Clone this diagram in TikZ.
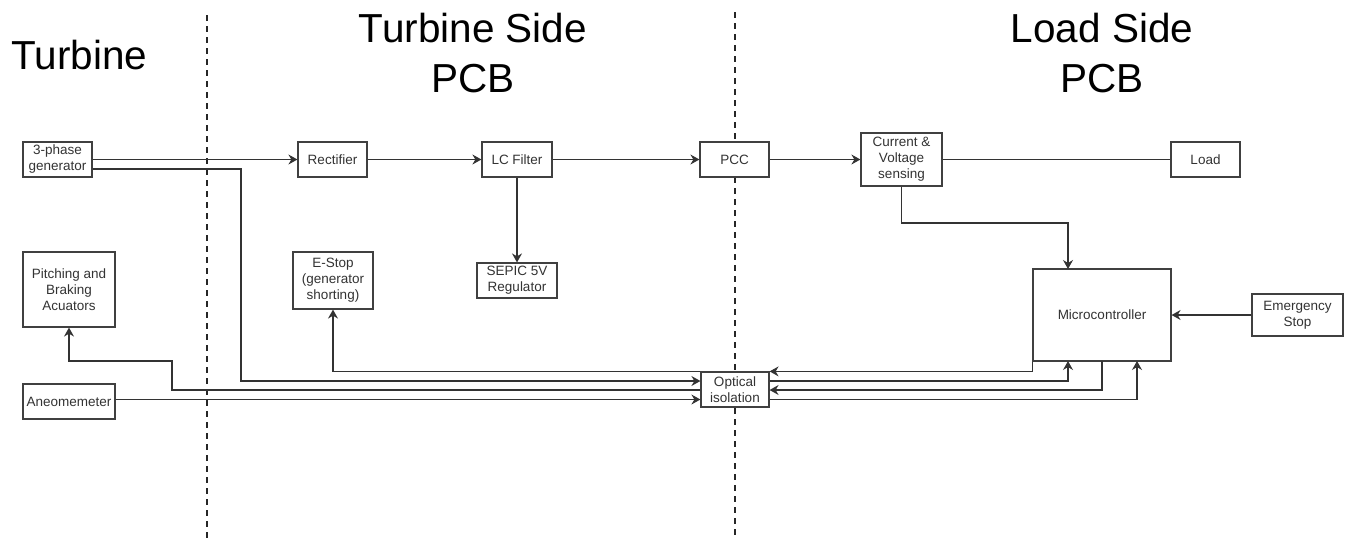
\documentclass[tikz,border=0pt]{standalone}
\usepackage{fontspec}
\setmainfont{Liberation Sans}
\usetikzlibrary{arrows.meta}
\begin{document}
\begin{tikzpicture}[x=1pt,y=-1pt,
  box/.style={draw=black!75,line width=1.2pt,fill=white,inner sep=0pt,align=center,
    text=black!80,font=\fontsize{13.5}{16}\selectfont},
  title/.style={inner sep=0pt,align=center,font=\fontsize{40.5}{50}\selectfont},
  conn/.style={draw=black!80,line width=1.1pt},
  arr/.style={conn,-{Stealth[length=9pt,width=10pt,inset=3pt]}},
  divider/.style={draw=black!85,line width=2pt,dash pattern=on 6pt off 5pt}]
\useasboundingbox (0,0) rectangle (1347,539);
\fill[white] (0,0) rectangle (1347,539);
% dividers
\coordinate (d1t) at (206.5,15);
\coordinate (d1b) at (206.5,539);
\coordinate (d2t) at (735,12);
\coordinate (d2b) at (735,539);
\draw[divider] (d1t) -- (d1b);
\draw[divider] (d2t) -- (d2b);
% titles
\node[title,anchor=base] (tturb) at (79.5,69) {Turbine};
\node[title] (tts) at (473,53) {Turbine Side\\PCB};
\node[title] (tls) at (1102,53) {Load Side\\PCB};
% boxes
\node[box,minimum width=69pt,minimum height=35pt] (gen) at (57.5,159.5) {3-phase\\generator};
\node[box,minimum width=69pt,minimum height=35pt] (rect) at (332.5,159.5) {Rectifier};
\node[box,minimum width=70pt,minimum height=35pt] (lc) at (517,159.5) {LC Filter};
\node[box,minimum width=80pt,minimum height=35pt] (sepic) at (517,280.5) {SEPIC 5V\\Regulator};
\node[box,minimum width=80pt,minimum height=57pt] (estop) at (333,280.5) {E-Stop\\(generator\\shorting)};
\node[box,minimum width=92pt,minimum height=75pt] (pitch) at (69,289.5) {Pitching and\\Braking\\Acuators};
\node[box,minimum width=92pt,minimum height=35pt] (aneo) at (69,401.5) {Aneomemeter};
\node[box,minimum width=68pt,minimum height=35pt] (opt) at (735,389.5) {Optical\\isolation};
\node[box,minimum width=69pt,minimum height=35pt] (pcc) at (734.5,159.5) {PCC};
\node[box,minimum width=81pt,minimum height=53pt] (cvs) at (901.5,159.5) {Current \&\\Voltage\\sensing};
\node[box,minimum width=69pt,minimum height=35pt] (load) at (1205.5,159.5) {Load};
\node[box,minimum width=138pt,minimum height=92pt] (mcu) at (1102,315) {Microcontroller};
\node[box,minimum width=91pt,minimum height=42pt] (emst) at (1297.5,315) {Emergency\\Stop};
% power path
\draw[arr] (gen.east) -- (rect.west);
\draw[arr] (rect) -- (lc);
\draw[arr] (lc) -- (pcc);
\draw[arr] (pcc) -- (cvs);
\draw[conn] (cvs) -- (load);
\draw[arr] (lc) -- (sepic);
\draw[arr] (cvs.south) |- (1068,223) -- (1068,269);
% left side signals via optical isolation
\draw[arr] ([yshift=-9.5pt]gen.east) -| (241,381) -- (opt.west |- 0,381);
\draw[arr] (opt.west |- 0,390) -| (172,361) -| (pitch.south);
\draw[arr] (aneo.east |- 0,399.5) -- (opt.west |- 0,399.5);
\draw[arr] (opt.north west) -| (estop.south);
% right side signals
\draw[arr] (mcu.south west) |- (opt.north east);
\draw[arr] (opt.east |- 0,381) -| (1068,361);
\draw[arr] (1102,361) |- (opt.east |- 0,390);
\draw[arr] (opt.east |- 0,399.5) -| (1137,361);
\draw[arr] (emst.west) -- (mcu.east);
\end{tikzpicture}
\end{document}
